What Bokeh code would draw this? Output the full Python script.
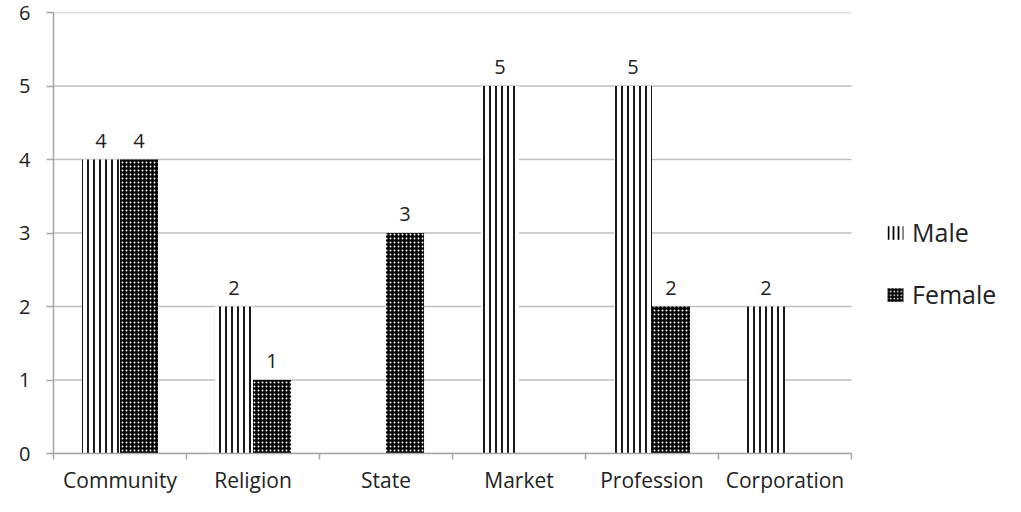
from bokeh.plotting import figure
from bokeh.models import ColumnDataSource, FixedTicker, Legend, LegendItem, Range1d
from bokeh.core.properties import value
from bokeh.embed import file_html
from bokeh.resources import INLINE

categories = ["Community", "Religion", "State", "Market", "Profession", "Corporation"]
male = [4, 2, 0, 5, 5, 2]
female = [4, 1, 3, 0, 2, 0]
y_ticks = [0, 1, 2, 3, 4, 5, 6]

FONT = "Open Sans"
BW = 0.286
N = len(categories)
W, H = 1005, 496
LEFT, RIGHT_PAD, TOP, BOTTOM = 53, 0, 12, 36
PLOT_W = 798  # pixel width of the category area
x_end = N * (W - LEFT - RIGHT_PAD) / PLOT_W

p = figure(width=W, height=H, output_backend="svg", toolbar_location=None,
           x_range=Range1d(0, x_end), y_range=Range1d(0, 6),
           min_border_left=LEFT, min_border_right=RIGHT_PAD, min_border_top=TOP,
           min_border_bottom=BOTTOM)
p.outline_line_color = None
p.background_fill_color = "white"

# horizontal gridlines only across category area
p.segment(x0=[0] * len(y_ticks), x1=[N] * len(y_ticks), y0=y_ticks, y1=y_ticks,
          line_color="#bfbfbf", line_width=1.5)

def build(vals, side):
    xs, tops = [], []
    for i, v in enumerate(vals):
        if v > 0:
            xs.append(i + 0.5 + side * BW / 2)
            tops.append(v)
    return ColumnDataSource(dict(x=xs, top=tops, lab=[str(t) for t in tops]))

sm = build(male, -1)
sf = build(female, 1)

male_style = dict(fill_color="white", line_color=None, hatch_pattern="vertical_line",
                  hatch_color="black", hatch_weight=1.8)
female_style = dict(fill_color="black", line_color=None, hatch_pattern="dot",
                    hatch_color="white", hatch_weight=1)

p.vbar(x="x", top="top", width=BW, bottom=0, source=sm, hatch_scale=6, **male_style)
p.vbar(x="x", top="top", width=BW, bottom=0, source=sf, hatch_scale=4, **female_style)

# legend swatches (zero-height, only shown in the legend)
lm = p.vbar(x=[0], top=[0], bottom=[0], width=0, hatch_scale=5, **male_style)
lf = p.vbar(x=[0], top=[0], bottom=[0], width=0, hatch_scale=3.5, **female_style)

for s in (sm, sf):
    p.text(x="x", y="top", text="lab", source=s, text_align="center", text_baseline="bottom",
           y_offset=-12, text_font=value(FONT), text_font_size="20px", text_color="#222222")

p.xaxis.bounds = (0, N)
p.xaxis.ticker = FixedTicker(ticks=[i + 0.5 for i in range(N)],
                             minor_ticks=list(range(N + 1)))
p.xaxis.major_label_overrides = {i + 0.5: c for i, c in enumerate(categories)}
p.xaxis.major_tick_out = 0
p.xaxis.major_tick_in = 0
p.xaxis.minor_tick_out = 6
p.xaxis.minor_tick_in = 0
p.xaxis.minor_tick_line_color = "#a6a6a6"
p.xaxis.axis_line_color = "#a6a6a6"
p.xaxis.axis_line_width = 1.5
p.xaxis.minor_tick_line_width = 1.5
p.xaxis.major_label_standoff = 6

p.yaxis.ticker = FixedTicker(ticks=y_ticks, minor_ticks=[])
p.yaxis.major_tick_out = 7
p.yaxis.major_tick_in = 0
p.yaxis.major_tick_line_color = "#a6a6a6"
p.yaxis.major_tick_line_width = 1.5
p.yaxis.axis_line_color = "#a6a6a6"
p.yaxis.axis_line_width = 1.5
p.yaxis.major_label_standoff = 16

for ax in (p.xaxis, p.yaxis):
    ax.major_label_text_font = FONT
    ax.major_label_text_color = "#222222"
p.xaxis.major_label_text_font_size = "21px"
p.yaxis.major_label_text_font_size = "20px"

p.xgrid.grid_line_color = None
p.ygrid.grid_line_color = None

legend = Legend(items=[LegendItem(label="Male", renderers=[lm]),
                       LegendItem(label="Female", renderers=[lf])],
                location=(832, 142), orientation="vertical")
legend.label_text_font = FONT
legend.label_text_font_size = "25px"
legend.label_text_color = "#222222"
legend.glyph_width = 20
legend.glyph_height = 17
legend.label_height = 28
legend.spacing = 28
legend.label_standoff = 7
legend.border_line_color = None
legend.background_fill_alpha = 0
legend.padding = 0
legend.margin = 0
p.add_layout(legend, "center")

open("out.html", "w").write(file_html(p, INLINE))
